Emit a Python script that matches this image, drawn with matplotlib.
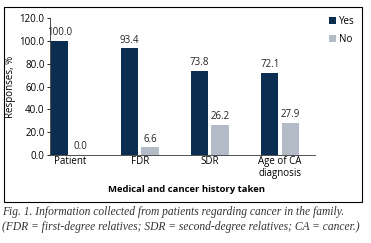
import numpy as np
import matplotlib
matplotlib.use("Agg")
import matplotlib.pyplot as plt
from matplotlib.patches import Rectangle

# --- data ---
categories = ["Patient", "FDR", "SDR", "Age of CA\ndiagnosis"]
yes_values = [100.0, 93.4, 73.8, 72.1]
no_values = [0.0, 6.6, 26.2, 27.9]
yticks = [0, 20, 40, 60, 80, 100, 120]

YES_COLOR = "#0b2d4f"
NO_COLOR = "#b3bcc6"
FS = 7.0

plt.rcParams['font.family'] = ['Open Sans', 'DejaVu Sans']

fig = plt.figure(figsize=(3.71, 2.43), dpi=100)
W, H = 371, 243
ax = fig.add_axes([49.5 / W, 1 - 155 / H, (315 - 49.5) / W, (155 - 18) / H])

x = np.arange(len(categories))
w = 0.245
off = 0.145
ax.bar(x - off, yes_values, w, color=YES_COLOR, label="Yes")
ax.bar(x + off, no_values, w, color=NO_COLOR, label="No")

for xi, v in zip(x, yes_values):
    ax.text(xi - off, v + 2.5, f"{v:.1f}", ha="center", va="bottom", fontsize=FS, color="#222222")
for xi, v in zip(x, no_values):
    ax.text(xi + off, v + 2.5, f"{v:.1f}", ha="center", va="bottom", fontsize=FS, color="#222222")

ax.set_xlim(-0.29, 3.5)
ax.set_ylim(0, 120)
ax.set_yticks(yticks)
ax.set_yticklabels([f"{t:.1f}" for t in yticks], fontsize=FS)
ax.set_xticks(x)
ax.set_xticklabels(categories, fontsize=FS, linespacing=1.05)
ax.tick_params(axis="x", length=0, pad=1)
ax.tick_params(axis="y", length=2.5, width=0.6, pad=1)
for s in ["top", "right"]:
    ax.spines[s].set_visible(False)
for s in ["left", "bottom"]:
    ax.spines[s].set_linewidth(0.6)
    ax.spines[s].set_color("#333333")

ax.set_ylabel("Responses, %", fontsize=FS)
ax.yaxis.set_label_coords(-0.125, 0.5)
fig.text(186 / W, 1 - 189 / H, "Medical and cancer history taken", ha="center", va="center",
         fontsize=6.8, fontweight="bold")

ax.legend(loc="upper left", bbox_to_anchor=(329 / W, 1 - 16 / H), bbox_transform=fig.transFigure,
          frameon=False, fontsize=FS, handlelength=0.75, handleheight=0.75,
          handletextpad=0.3, labelspacing=0.75, borderaxespad=0, borderpad=0)

# frame around the chart
fig.patches.append(Rectangle((4 / W, 1 - 202 / H), (362 - 4) / W, (202 - 7) / H,
                             transform=fig.transFigure, fill=False, edgecolor="black", linewidth=0.8))

caption_font = dict(family=["Liberation Serif", "DejaVu Serif"], style="italic", fontsize=8.3, color="#333333")
fig.text(2 / W, 1 - 212 / H, "Fig. 1. Information collected from patients regarding cancer in the family.",
         ha="left", va="center", **caption_font)
fig.text(2 / W, 1 - 227 / H, "(FDR = first-degree relatives; SDR = second-degree relatives; CA = cancer.)",
         ha="left", va="center", **caption_font)

fig.savefig("out.png", dpi=100)
